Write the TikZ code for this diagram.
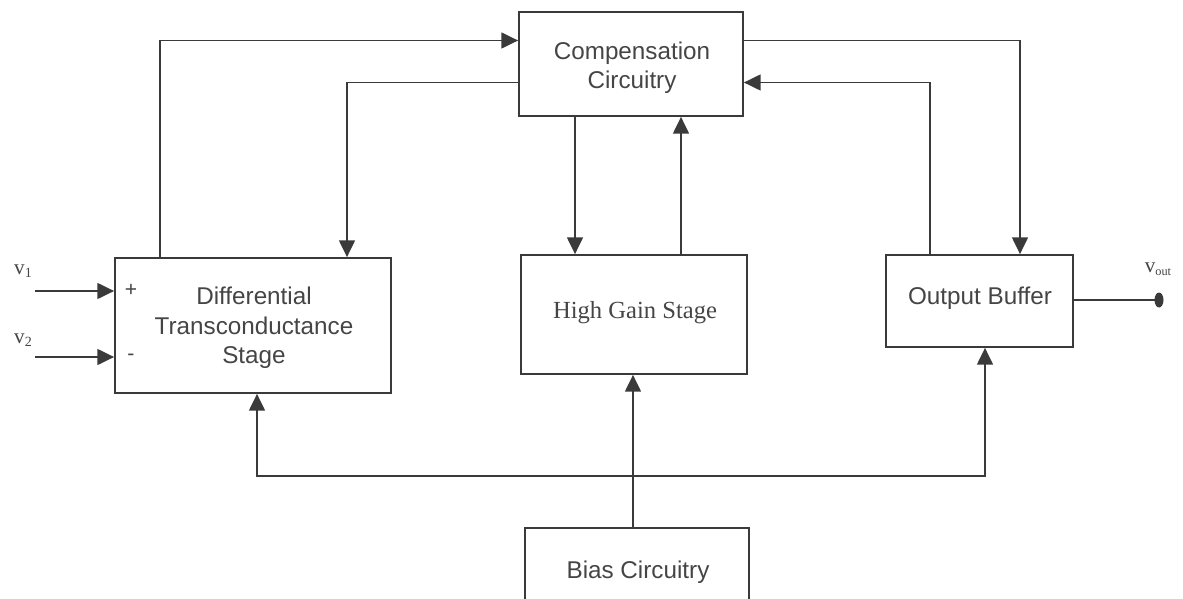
\documentclass[tikz,border=0pt]{standalone}
\usepackage{fontspec}
\setmainfont{Liberation Sans}
\newfontfamily\serifrm{Liberation Serif}
\usetikzlibrary{arrows.meta}
\definecolor{ink}{HTML}{3A3A3A}
\definecolor{txt}{HTML}{454545}
\tikzset{
  blk/.style={draw=ink, line width=1pt, rectangle, inner sep=0pt},
  btxt/.style={align=center, inner sep=0pt, text=txt, font=\fontsize{13.8}{16.8}\selectfont},
  arr/.style={draw=ink, line width=1pt, -{Triangle[length=9.5pt,width=9pt]}},
  ln/.style={draw=ink, line width=1pt},
  lbl/.style={text=txt, inner sep=0pt}
}
\begin{document}
\begin{tikzpicture}
\useasboundingbox (0,0) rectangle (23.66,-11.98);
\clip (0,0) rectangle (23.66,-11.98);
% blocks
\node[blk, minimum width=4.48cm, minimum height=2.08cm] (comp) at (12.62,-1.28) {};
\node[btxt] (comptxt) at (12.64,-1.35) {Compensation\\Circuitry};
\node[blk, minimum width=5.52cm, minimum height=2.70cm] (diff) at (5.06,-6.51) {};
\node[btxt] (difftxt) at (5.08,-6.56) {Differential\\Transconductance\\Stage};
\node[blk, minimum width=4.52cm, minimum height=2.38cm] (hgs) at (12.68,-6.29) {};
\node[btxt, font=\serifrm\fontsize{14}{16}\selectfont] (hgstxt) at (12.70,-6.26) {High Gain Stage};
\node[blk, minimum width=3.74cm, minimum height=1.84cm] (ob) at (19.59,-6.02) {};
\node[btxt] (obtxt) at (19.60,-5.96) {Output Buffer};
\node[blk, minimum width=4.48cm, minimum height=2.24cm] (bias) at (12.74,-11.68) {};
\node[btxt] (biastxt) at (12.76,-11.44) {Bias Circuitry};
% helper coordinates
\coordinate (c1x) at (3.20,0);
\coordinate (c2x) at (6.94,0);
\coordinate (c3x) at (11.50,0);
\coordinate (c4x) at (13.62,0);
\coordinate (c5x) at (20.40,0);
\coordinate (c6x) at (18.60,0);
\coordinate (c7x) at (12.66,0);
\coordinate (c8x) at (5.14,0);
\coordinate (c9x) at (19.70,0);
\coordinate (y1) at (0,-0.81);
\coordinate (y2) at (0,-1.65);
\coordinate (bus) at (0,-9.52);
\coordinate (in1) at (0.70,-5.82);
\coordinate (in2) at (0.70,-7.14);
\coordinate (out) at (23.18,-6.00);
% connectors
\draw[arr] (diff.north -| c1x) |- (comp.west |- y1);
\draw[arr] (comp.west |- y2) -| (diff.north -| c2x);
\draw[arr] (comp.south -| c3x) -- (hgs.north -| c3x);
\draw[arr] (hgs.north -| c4x) -- (comp.south -| c4x);
\draw[arr] (comp.east |- y1) -| (ob.north -| c5x);
\draw[arr] (ob.north -| c6x) |- (comp.east |- y2);
\draw[arr] (bias.north -| c7x) -- (hgs.south -| c7x);
\draw[arr] (c7x |- bus) -| (diff.south -| c8x);
\draw[arr] (c7x |- bus) -| (ob.south -| c9x);
% inputs
\draw[arr] (in1) -- (diff.west |- in1);
\draw[arr] (in2) -- (diff.west |- in2);
\node[lbl, font=\serifrm\fontsize{12}{14}\selectfont] (v1) at (0.46,-5.42) {v\raisebox{-0.35ex}{\fontsize{8}{9}\selectfont 1}};
\node[lbl, font=\serifrm\fontsize{12}{14}\selectfont] (v2) at (0.46,-6.80) {v\raisebox{-0.35ex}{\fontsize{8}{9}\selectfont 2}};
\node[lbl, font=\fontsize{12}{14}\selectfont] (plus) at (2.62,-5.80) {+};
\node[lbl, font=\fontsize{12}{14}\selectfont] (minus) at (2.62,-7.14) {-};
% output
\draw[ln] (ob.east |- out) -- (out);
\fill[ink] (out) ellipse (0.09 and 0.15);
\node[lbl, font=\serifrm\fontsize{12}{14}\selectfont] (vout) at (23.16,-5.38) {v\raisebox{-0.35ex}{\fontsize{7}{8}\selectfont out}};
\end{tikzpicture}
\end{document}
